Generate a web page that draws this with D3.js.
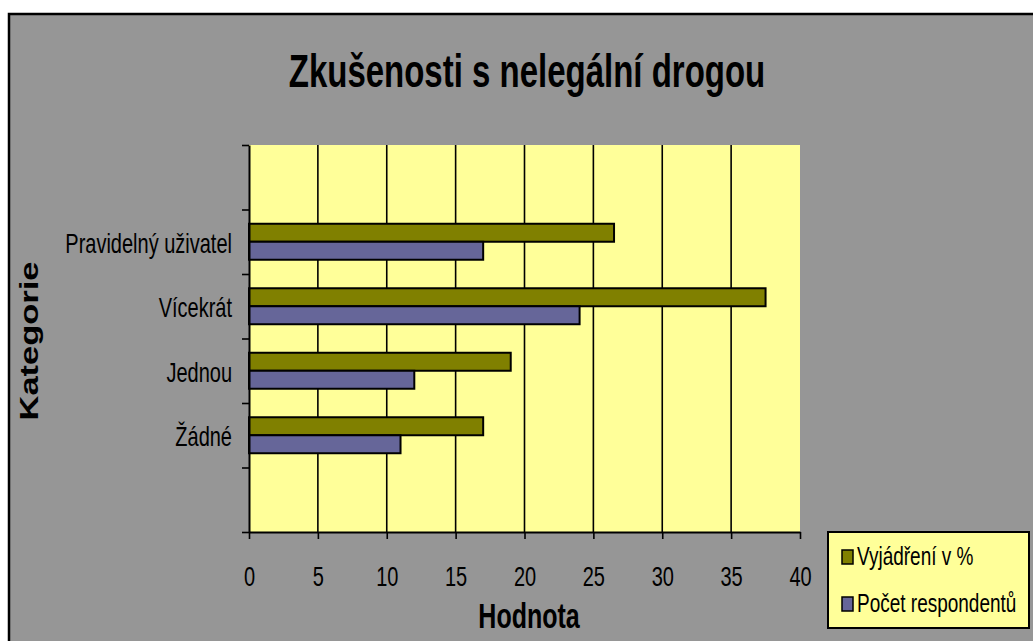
<!DOCTYPE html>
<html>
<head>
<meta charset="utf-8" />
<script src="https://cdn.jsdelivr.net/npm/d3@7/dist/d3.min.js"></script>
<style>
  body { margin: 0; background: #fff; }
  text { font-family: "Liberation Sans", Arial, sans-serif; fill: #000; }
</style>
</head>
<body>
<script>
"use strict";

// empty first and last category, as in the original sheet
var categories = ["", "Pravidelný uživatel", "Vícekrát", "Jednou", "Žádné", ""];
var seriesNames = ["Vyjádření v %", "Počet respondentů"];
var percentValues = [null, 26.5, 37.5, 19, 17, null];
var respondentValues = [null, 17, 24, 12, 11, null];
var xTicks = [0, 5, 10, 15, 20, 25, 30, 35, 40];
var colors = ["#808000", "#666699"];

var width = 1033, height = 641;
var stretch = 1.38; // picture is stretched vertically, text too

var plot = {left: 249, right: 800, top: 145, bottom: 532};

var svg = d3.select("body").append("svg")
  .attr("width", width)
  .attr("height", height);

// chart area (runs off the right and bottom edge)
svg.append("rect")
  .attr("x", 9).attr("y", 14)
  .attr("width", 1100).attr("height", 700)
  .attr("fill", "#969696")
  .attr("stroke", "#000")
  .attr("stroke-width", 2.5);

function label(g, x, y, txt, size, bold, anchor, rotate) {
  return g.append("text")
    .attr("transform", "translate(" + x + "," + y + ") scale(1," + stretch + ")" + (rotate ? " rotate(" + rotate + ")" : ""))
    .attr("font-size", size)
    .attr("font-weight", bold ? "bold" : "normal")
    .attr("text-anchor", anchor || "start")
    .text(txt);
}

var x = d3.scaleLinear().domain([0, 40]).range([plot.left, plot.right]);

var y = d3.scaleBand()
  .domain(d3.range(categories.length))
  .range([plot.top, plot.bottom]);

var yBar = d3.scaleBand()
  .domain(d3.range(categories.length))
  .range([plot.top, plot.bottom])
  .paddingInner(0.442)
  .paddingOuter(0.221);

var ySeries = d3.scaleBand()
  .domain([0, 1])
  .range([0, yBar.bandwidth()]);

// plot area
svg.append("rect")
  .attr("x", plot.left).attr("y", plot.top)
  .attr("width", plot.right - plot.left)
  .attr("height", plot.bottom - plot.top)
  .attr("fill", "#ffff99");

// gridlines
svg.append("g").selectAll("line")
  .data(xTicks.slice(1, -1))
  .join("line")
  .attr("x1", function(d) { return x(d); })
  .attr("x2", function(d) { return x(d); })
  .attr("y1", plot.top)
  .attr("y2", plot.bottom)
  .attr("stroke", "#000")
  .attr("stroke-width", 1.6);

// bars
var seriesData = [percentValues, respondentValues];
seriesData.forEach(function(values, s) {
  svg.append("g").selectAll("rect")
    .data(values.map(function(v, i) { return {i: i, v: v}; }).filter(function(d) { return d.v !== null; }))
    .join("rect")
    .attr("x", x(0))
    .attr("y", function(d) { return yBar(d.i) + ySeries(s); })
    .attr("width", function(d) { return x(d.v) - x(0); })
    .attr("height", ySeries.bandwidth())
    .attr("fill", colors[s])
    .attr("stroke", "#000")
    .attr("stroke-width", 2);
});

// x axis
var xAxis = svg.append("g")
  .attr("transform", "translate(0," + plot.bottom + ")")
  .call(d3.axisBottom(x).tickValues(xTicks).tickSize(7).tickSizeOuter(0));
xAxis.select(".domain").attr("stroke-width", 2);
xAxis.selectAll(".tick line").attr("stroke-width", 1.6);
xAxis.selectAll(".tick text")
  .attr("y", null).attr("dy", null)
  .attr("font-family", "Liberation Sans, Arial, sans-serif")
  .attr("font-size", 20)
  .attr("transform", "translate(0,54) scale(1," + stretch + ")");

// y axis: ticks at category boundaries, labels in the middle
var yTickScale = d3.scaleLinear().domain([0, categories.length]).range([plot.bottom, plot.top]);
var yAxis = svg.append("g")
  .attr("transform", "translate(" + plot.left + ",0)")
  .call(d3.axisLeft(yTickScale).ticks(categories.length).tickSize(7).tickSizeOuter(0).tickFormat(""));
yAxis.select(".domain").attr("stroke-width", 2);
yAxis.selectAll(".tick line").attr("stroke-width", 1.6);

var yLabels = svg.append("g")
  .attr("transform", "translate(232,0)")
  .call(d3.axisLeft(y).tickSize(0).tickFormat(function(i) { return categories[i]; }));
yLabels.select(".domain").remove();
yLabels.selectAll(".tick text")
  .attr("x", null).attr("dy", null)
  .attr("font-family", "Liberation Sans, Arial, sans-serif")
  .attr("font-size", 20)
  .attr("transform", "translate(0,11) scale(1," + stretch + ")");

// titles
label(svg, 527, 87, "Zkušenosti s nelegální drogou", 33, true, "middle");
label(svg, 529, 628, "Hodnota", 25, true, "middle");
label(svg, 38, 341, "Kategorie", 25, true, "middle", -90);

// legend
var legend = svg.append("g");
legend.append("rect")
  .attr("x", 828).attr("y", 532)
  .attr("width", 201).attr("height", 96)
  .attr("fill", "#ffff99")
  .attr("stroke", "#000")
  .attr("stroke-width", 2);

var legendY = d3.scalePoint().domain(d3.range(seriesNames.length)).range([565, 612]);
seriesNames.forEach(function(name, s) {
  legend.append("rect")
    .attr("x", 842).attr("y", legendY(s) - 15)
    .attr("width", 11).attr("height", 14)
    .attr("fill", colors[s])
    .attr("stroke", "#000")
    .attr("stroke-width", 1.5);
  label(legend, 857, legendY(s), name, 19, false, "start");
});
</script>
</body>
</html>
